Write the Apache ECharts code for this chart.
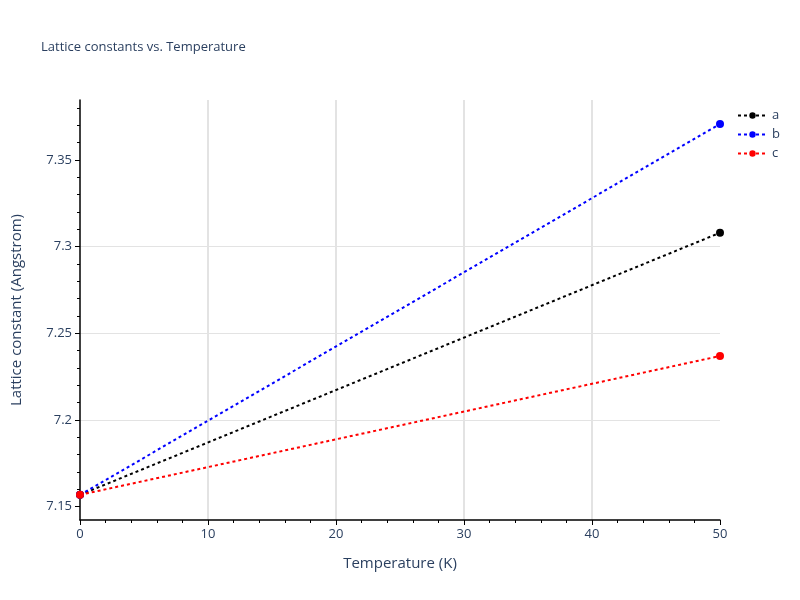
<!DOCTYPE html>
<html>
<head>
<meta charset="utf-8">
<script src="https://cdn.jsdelivr.net/npm/echarts@6/dist/echarts.min.js"></script>
<style>html,body{margin:0;padding:0;background:#fff}#c{width:800px;height:600px}</style>
</head>
<body>
<div id="c"></div>
<script>
const temperature = [0, 50];
const seriesNames = ['a', 'b', 'c'];
const valuesA = [7.1568, 7.3080];
const valuesB = [7.1568, 7.3708];
const valuesC = [7.1568, 7.2369];
const colors = ['#000000', '#0000ff', '#ff0000'];
const yTicks = [7.15, 7.2, 7.25, 7.3, 7.35];
const xTicks = [0, 10, 20, 30, 40, 50];

const font = '"Open Sans", "Liberation Sans", sans-serif';
const txt = '#2a3f5f';
const allValues = [valuesA, valuesB, valuesC];

const chart = echarts.init(document.getElementById('c'), null, {renderer: 'canvas'});
chart.setOption({
  backgroundColor: '#fff',
  animation: false,
  title: {
    text: 'Lattice constants vs. Temperature',
    left: 36, top: 36,
    textStyle: {fontFamily: font, fontSize: 13, fontWeight: 'normal', color: txt}
  },
  legend: {
    orient: 'vertical',
    left: 732, top: 104,
    itemWidth: 29, itemHeight: 8, itemGap: 6,
    textStyle: {fontFamily: font, fontSize: 13, color: txt},
    data: seriesNames
  },
  grid: {left: 80, right: 80, top: 100, bottom: 80, containLabel: false, outerBoundsMode: 'none'},
  xAxis: {
    type: 'value',
    min: xTicks[0], max: xTicks[xTicks.length - 1], interval: 10,
    name: 'Temperature (K)', nameLocation: 'middle', nameGap: 36,
    nameTextStyle: {fontFamily: font, fontSize: 15, color: txt},
    axisLine: {show: true, onZero: false, lineStyle: {color: '#000', width: 1.5}},
    axisTick: {show: true, inside: false, length: 5, lineStyle: {color: '#000', width: 1}},
    minorTick: {show: true, splitNumber: 5, length: 3, lineStyle: {color: '#000', width: 1}},
    axisLabel: {fontFamily: font, fontSize: 13, color: txt, margin: 8},
    splitLine: {show: true, showMinLine: false, showMaxLine: false, lineStyle: {color: '#e3e3e3', width: 2}}
  },
  yAxis: {
    type: 'value',
    min: 7.1423, max: 7.3846,
    minInterval: 0.05, maxInterval: 0.05, splitNumber: 5,
    name: 'Lattice constant (Angstrom)', nameLocation: 'middle', nameGap: 56,
    nameTextStyle: {fontFamily: font, fontSize: 15, color: txt},
    axisLine: {show: true, onZero: false, lineStyle: {color: '#000', width: 1.5}},
    axisTick: {show: true, inside: false, length: 5, customValues: yTicks, lineStyle: {color: '#000', width: 1}},
    minorTick: {show: true, splitNumber: 5, length: 3, lineStyle: {color: '#000', width: 1}},
    axisLabel: {
      fontFamily: font, fontSize: 13, color: txt, margin: 8,
      formatter: function (v) {
        for (const t of yTicks) { if (Math.abs(v - t) < 1e-6) return String(t); }
        return '';
      }
    },
    splitLine: {show: true, showMinLine: false, showMaxLine: false, lineStyle: {color: '#e3e3e3', width: 1}}
  },
  series: seriesNames.map((n, i) => ({
    name: n,
    type: 'line',
    data: temperature.map((t, j) => [t, allValues[i][j]]),
    color: colors[i],
    symbol: 'circle', symbolSize: 8, showSymbol: true,
    clip: false,
    lineStyle: {color: colors[i], width: 2, type: [3, 3]},
    itemStyle: {color: colors[i]}
  }))
});
</script>
</body>
</html>
